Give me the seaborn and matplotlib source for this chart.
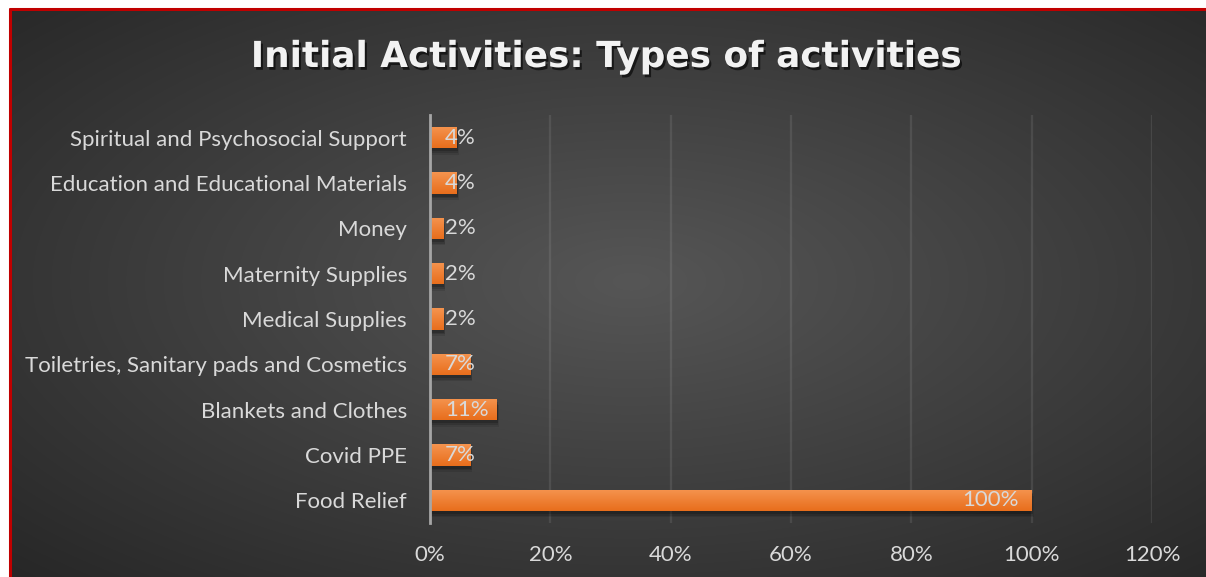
import numpy as np
import pandas as pd
import matplotlib
matplotlib.use("Agg")
import matplotlib.pyplot as plt
import matplotlib.patheffects as pe
from matplotlib.lines import Line2D
import seaborn as sns

# Share of respondents per activity type (top to bottom as listed)
categories = [
    "Spiritual and Psychosocial Support",
    "Education and Educational Materials",
    "Money",
    "Maternity Supplies",
    "Medical Supplies",
    "Toiletries, Sanitary pads and Cosmetics",
    "Blankets and Clothes",
    "Covid PPE",
    "Food Relief",
]
shares = [0.044, 0.044, 0.022, 0.022, 0.022, 0.067, 0.111, 0.067, 1.0]
tick_values = [0.0, 0.2, 0.4, 0.6, 0.8, 1.0, 1.2]
title = "Initial Activities: Types of activities"

df = pd.DataFrame({"activity": categories, "share": shares})

sns.set_theme(style="dark")
plt.rcParams["font.family"] = ["Lato", "DejaVu Sans"]

W, H = 1206, 577
fig = plt.figure(figsize=(W / 100, H / 100), dpi=100, facecolor="white")

# Dark radial-gradient panel with a red frame on top and left
bg = fig.add_axes([9 / W, 0, 1 - 9 / W, 1 - 9 / H])
bg.set_axis_off()
yy, xx = np.mgrid[0:1:300j, 0:1:600j]
d = np.sqrt(((xx - 0.52) / 0.72) ** 2 + ((yy - 0.48) / 0.72) ** 2)
shade = (86 - 46 * np.clip(d, 0, 1.1)) / 255.0
bg.imshow(np.dstack([shade, shade, shade]), extent=[0, 1, 0, 1], aspect="auto",
          interpolation="bilinear", origin="upper")
bg.set_xlim(0, 1)
bg.set_ylim(0, 1)
fig.add_artist(Line2D([9.5 / W, 1], [1 - 8.5 / H, 1 - 8.5 / H], transform=fig.transFigure,
                      color="#c00000", lw=2.2))
fig.add_artist(Line2D([9.5 / W, 9.5 / W], [0, 1 - 8.5 / H], transform=fig.transFigure,
                      color="#c00000", lw=2.2))

ax = fig.add_axes([430 / W, 1 - 523 / H, (1152 - 430) / W, (523 - 115) / H])
ax.set_facecolor("none")

sns.barplot(data=df, x="share", y="activity", orient="h", color="#ed7d31",
            width=0.47, ax=ax, zorder=3, saturation=1, linewidth=0, edgecolor="none")

# Vertical orange gradient and soft drop shadow on every bar
grad = np.linspace(0, 1, 64)[:, None]
top = np.array([0.96, 0.58, 0.31])
bot = np.array([0.91, 0.43, 0.11])
grad_rgb = top[None, None, :] * (1 - grad[..., None]) + bot[None, None, :] * grad[..., None]
grad_rgb = np.repeat(grad_rgb, 2, axis=1)
shadow = [
    pe.SimplePatchShadow(offset=(1.5, -4.5), shadow_rgbFace="black", alpha=0.10),
    pe.SimplePatchShadow(offset=(1.2, -3.3), shadow_rgbFace="black", alpha=0.14),
    pe.SimplePatchShadow(offset=(0.8, -2.2), shadow_rgbFace="black", alpha=0.18),
    pe.Normal(),
]
for bar in ax.patches:
    bar.set_path_effects(shadow)
    x0, y0 = bar.get_x(), bar.get_y()
    w, h = bar.get_width(), bar.get_height()
    im = ax.imshow(grad_rgb, extent=[x0, x0 + w, y0 + h, y0], aspect="auto",
                   origin="upper", zorder=4, interpolation="bilinear")
    im.set_clip_path(bar)
ax.set_xlim(0, 1.2)
ax.set_ylim(len(categories) - 0.5, -0.5)

ax.set_xticks(tick_values)
ax.set_xticklabels([f"{v:.0%}" for v in tick_values])
ax.set_xlabel("")
ax.set_ylabel("")
ax.grid(axis="x", color="white", alpha=0.09, lw=1.6, zorder=1)
ax.grid(axis="y", visible=False)
for side in ["top", "right", "bottom"]:
    ax.spines[side].set_visible(False)
ax.spines["left"].set_color("#a6a6a6")
ax.spines["left"].set_linewidth(2)
ax.spines["left"].set_zorder(5)
ax.tick_params(axis="both", length=0, labelsize=16, labelcolor="#d9d9d9")
ax.tick_params(axis="x", pad=16)
ax.tick_params(axis="y", pad=16.5)

# Value labels at the inside end of each bar, kept clear of the axis
fig.canvas.draw()
renderer = fig.canvas.get_renderer()
ax_left_px = ax.transData.transform((0, 0))[0]
for i, v in enumerate(shares):
    t = ax.annotate(f"{v:.0%}", xy=(v, i), xytext=(-13, 0), textcoords="offset pixels",
                    ha="right", va="center", fontsize=16, color="#d9d9d9", zorder=6)
    bb = t.get_window_extent(renderer)
    if bb.x0 < ax_left_px + 15:
        t.remove()
        ax.annotate(f"{v:.0%}", xy=(0, i), xytext=(15, 0), textcoords="offset pixels",
                    ha="left", va="center", fontsize=16, color="#d9d9d9", zorder=6)

fig.text(607 / W, 1 - 57 / H, title, ha="center", va="center", fontsize=25.8,
         fontweight="bold", color="#f2f2f2", family=["DejaVu Sans"],
         path_effects=[pe.withSimplePatchShadow(offset=(1.5, -2), shadow_rgbFace="black", alpha=0.6)])

fig.savefig("out.png", dpi=100, facecolor="white")
